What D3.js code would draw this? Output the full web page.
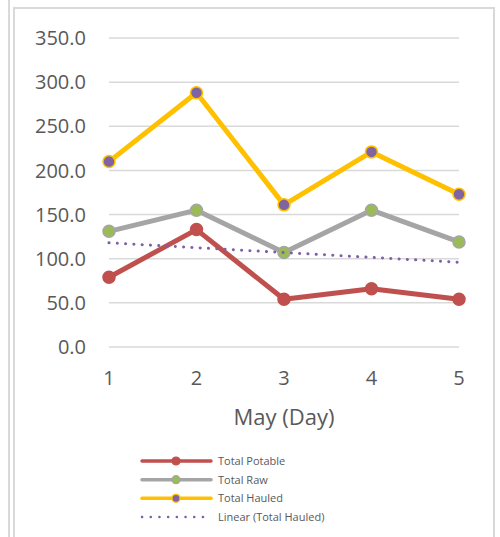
<!DOCTYPE html>
<html>
<head>
<meta charset="utf-8">
<script src="https://cdn.jsdelivr.net/npm/d3@7"></script>
<style>
  body { margin: 0; background: #fff; }
  svg { font-family: "Open Sans", "Noto Sans", sans-serif; }
</style>
</head>
<body>
<div id="chart"></div>
<script>
// data
var days = [1, 2, 3, 4, 5];
var totalPotable = [79, 133, 54, 66, 54];
var totalRaw = [131, 155, 107, 155, 119];
var totalHauled = [210, 288, 161, 221, 173];
var trendDays = [1, 5];
var trendHauled = [118, 96];
var yTicks = [0, 50, 100, 150, 200, 250, 300, 350];
var seriesNames = ["Total Potable", "Total Raw", "Total Hauled", "Linear (Total Hauled)"];

var width = 500, height = 537;

var svg = d3.select("#chart").append("svg")
  .attr("width", width)
  .attr("height", height);

// outer frame lines
svg.append("line")
  .attr("x1", 9).attr("x2", 9).attr("y1", 0).attr("y2", height)
  .style("stroke", "#d9d9d9").style("stroke-width", 2);
svg.append("path")
  .attr("d", "M14," + height + "V8H494V" + height)
  .style("fill", "none").style("stroke", "#d9d9d9").style("stroke-width", 2);

var x = d3.scalePoint()
  .domain(days)
  .range([109, 459]);

var y = d3.scaleLinear()
  .domain([0, 350])
  .range([347, 38]);

// gridlines
svg.append("g").selectAll("line")
  .data(yTicks)
  .enter().append("line")
  .attr("x1", 109).attr("x2", 459)
  .attr("y1", function(d) { return y(d); })
  .attr("y2", function(d) { return y(d); })
  .style("stroke", "#d9d9d9")
  .style("stroke-width", 1.5);

// y labels
svg.append("g").selectAll("text")
  .data(yTicks)
  .enter().append("text")
  .attr("x", 86)
  .attr("y", function(d) { return y(d); })
  .attr("dy", "0.36em")
  .style("text-anchor", "end")
  .style("font-size", "20px")
  .style("fill", "#595959")
  .text(function(d) { return d3.format(".1f")(d); });

// x labels
svg.append("g").selectAll("text")
  .data(days)
  .enter().append("text")
  .attr("x", function(d) { return x(d); })
  .attr("y", 385)
  .style("text-anchor", "middle")
  .style("font-size", "20px")
  .style("fill", "#595959")
  .text(function(d) { return d; });

svg.append("text")
  .attr("x", 284)
  .attr("y", 425)
  .style("text-anchor", "middle")
  .style("font-size", "22px")
  .style("fill", "#595959")
  .text("May (Day)");

var line = d3.line()
  .x(function(d) { return x(d[0]); })
  .y(function(d) { return y(d[1]); });

var series = [
  {values: totalPotable, stroke: "#c0504d", fill: "#c0504d", outline: "#c0504d"},
  {values: totalRaw, stroke: "#a5a5a5", fill: "#9bbb59", outline: "#a5a5a5"},
  {values: totalHauled, stroke: "#ffc000", fill: "#8064a2", outline: "#ffc000"}
];

series.forEach(function(s) {
  var pts = days.map(function(d, i) { return [d, s.values[i]]; });
  svg.append("path")
    .datum(pts)
    .attr("d", line)
    .style("fill", "none")
    .style("stroke", s.stroke)
    .style("stroke-width", 5)
    .style("stroke-linejoin", "round");
  svg.append("g").selectAll("circle")
    .data(pts)
    .enter().append("circle")
    .attr("cx", function(d) { return x(d[0]); })
    .attr("cy", function(d) { return y(d[1]); })
    .attr("r", 6)
    .style("fill", s.fill)
    .style("stroke", s.outline)
    .style("stroke-width", 1.5);
});

// trend line
svg.append("path")
  .datum(trendDays.map(function(d, i) { return [d, trendHauled[i]]; }))
  .attr("d", line)
  .style("fill", "none")
  .style("stroke", "#7f5fa5")
  .style("stroke-width", 3)
  .style("stroke-linecap", "round")
  .style("stroke-dasharray", "0.1 8.2");

// legend
var legend = svg.append("g").attr("class", "legend");
var legendY = d3.scalePoint().domain(seriesNames).range([461, 517]);

series.concat([null]).forEach(function(s, i) {
  var ly = legendY(seriesNames[i]);
  if (s) {
    legend.append("line")
      .attr("x1", 142).attr("x2", 211).attr("y1", ly).attr("y2", ly)
      .style("stroke", s.stroke).style("stroke-width", 3.5)
      .style("stroke-linecap", "round");
    legend.append("circle")
      .attr("cx", 176).attr("cy", ly).attr("r", 4)
      .style("fill", s.fill).style("stroke", s.outline).style("stroke-width", 1.2);
  } else {
    legend.append("line")
      .attr("x1", 142).attr("x2", 211).attr("y1", ly).attr("y2", ly)
      .style("stroke", "#7f5fa5").style("stroke-width", 2.5)
      .style("stroke-linecap", "round")
      .style("stroke-dasharray", "0.1 8.6");
  }
  legend.append("text")
    .attr("x", 218)
    .attr("y", ly)
    .attr("dy", "0.35em")
    .style("font-size", "11px")
    .style("fill", "#595959")
    .text(seriesNames[i]);
});
</script>
</body>
</html>
